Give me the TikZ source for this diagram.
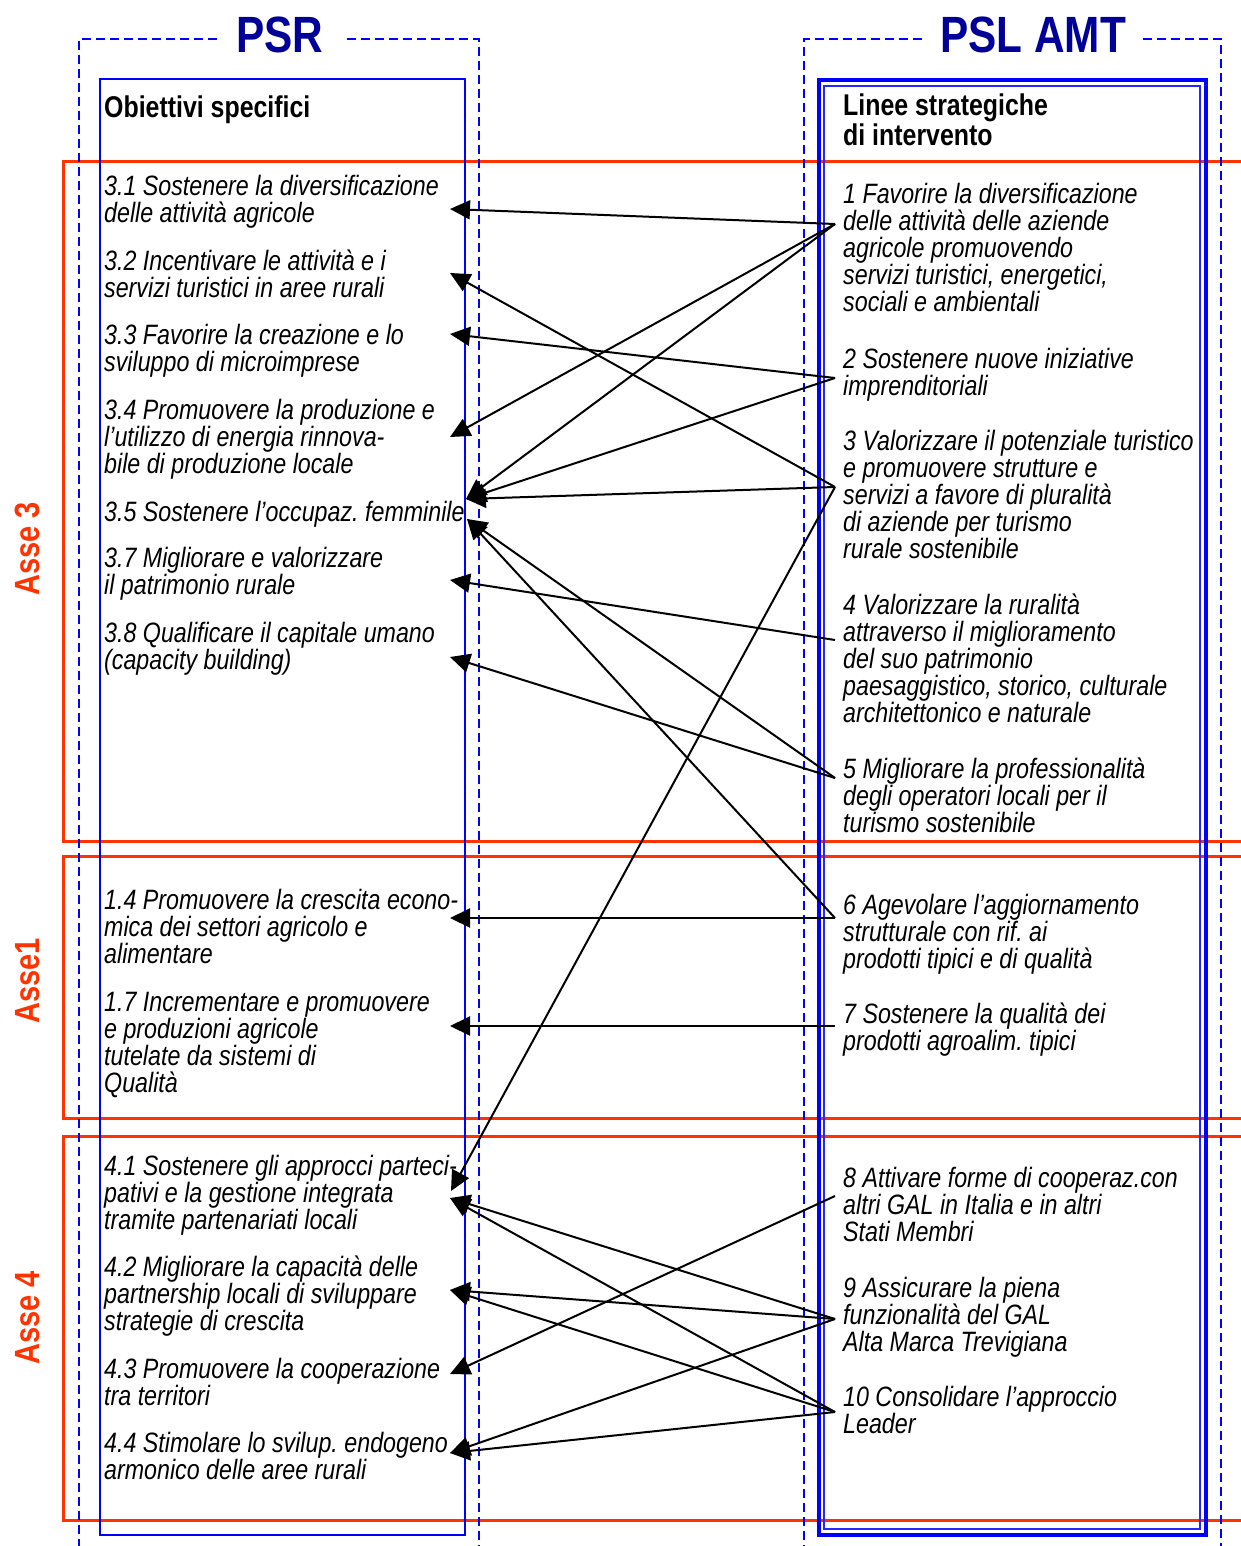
\documentclass[tikz,border=0pt]{standalone}
\usepackage{fontspec}
\setmainfont{Liberation Sans}[FakeStretch=0.83]
\usetikzlibrary{arrows.meta}
\definecolor{bl}{HTML}{0000FF}
\definecolor{navy}{HTML}{000099}
\definecolor{rd}{HTML}{FF3300}
\frenchspacing
\begin{document}
\begin{tikzpicture}[x=1pt,y=-1pt,
  txt/.style={anchor=base west, align=left, inner sep=0pt, font=\fontsize{28}{27}\selectfont\itshape\frenchspacing},
  head/.style={anchor=base west, align=left, inner sep=0pt, font=\fontsize{30}{30}\selectfont\bfseries},
  ttl/.style={anchor=base, inner sep=0pt, text=navy, font=\fontsize{51}{51}\selectfont\bfseries},
  asse/.style={anchor=base, rotate=90, inner sep=0pt, text=rd, font=\fontsize{35}{35}\selectfont\bfseries},
  dashline/.style={draw=bl, line width=2.8pt, dash pattern=on 9pt off 5pt},
  redbox/.style={draw=rd, line width=3pt},
  bluebox/.style={draw=bl, line width=2pt},
  arr/.style={draw=black, line width=2pt, -{Triangle[length=20pt,width=19pt]}},
]
\useasboundingbox (0,0) rectangle (1240,1546);
\fill[white] (0,0) rectangle (1240,1546);

% Asse frames
\draw[redbox] (63,162) rectangle (1280,841);
\draw[redbox] (63,856) rectangle (1280,1118);
\draw[redbox] (63,1136) rectangle (1280,1520);

% dashed outer frames
\draw[dashline] (217,39) -- (79,39) -- (79,1570);
\draw[dashline] (347,39) -- (479,39) -- (479,1570);
\draw[dashline] (922,39) -- (804,39) -- (804,1570);
\draw[dashline] (1143,39) -- (1221,39) -- (1221,1570);

% columns
\draw[bluebox] (100,79) rectangle (465,1535);
\draw[draw=bl, line width=3.5pt] (819,80) rectangle (1206,1535);
\draw[draw=bl!85, line width=2.5pt] (824,86) rectangle (1200,1529);

% titles
\node[ttl] (psr) at (280,53) {PSR};
\node[ttl] (psl) at (1033,53) {PSL AMT};
\node[asse] (a3) at (39,549) {Asse 3};
\node[asse] (a1) at (39,981) {Asse1};
\node[asse] (a4) at (39,1318) {Asse 4};

% left texts (positions = baseline of last line)
\node[head] (hl) at (104,118) {Obiettivi specifici};
\node[txt] (o31) at (104,223) {3.1 Sostenere la diversificazione\\delle attività agricole};
\node[txt] (o32) at (104,297) {3.2 Incentivare le attività e i\\servizi turistici in aree rurali};
\node[txt] (o33) at (104,371) {3.3 Favorire la creazione e lo\\sviluppo di microimprese};
\node[txt] (o34) at (104,473) {3.4 Promuovere la produzione e\\l’utilizzo di energia rinnova-\\bile di produzione locale};
\node[txt] (o35) at (104,521) {3.5 Sostenere l’occupaz. femminile};
\node[txt] (o37) at (104,594) {3.7 Migliorare e valorizzare\\il patrimonio rurale};
\node[txt] (o38) at (104,669) {3.8 Qualificare il capitale umano\\(capacity building)};
\node[txt] (o14) at (104,963) {1.4 Promuovere la crescita econo-\\mica dei settori agricolo e\\alimentare};
\node[txt] (o17) at (104,1092) {1.7 Incrementare e promuovere\\e produzioni agricole\\tutelate da sistemi di\\Qualità};
\node[txt] (o41) at (104,1229) {4.1 Sostenere gli approcci parteci-\\pativi e la gestione integrata\\tramite partenariati locali};
\node[txt] (o42) at (104,1330) {4.2 Migliorare la capacità delle\\partnership locali di sviluppare\\strategie di crescita};
\node[txt] (o43) at (104,1405) {4.3 Promuovere la cooperazione\\tra territori};
\node[txt] (o44) at (104,1479) {4.4 Stimolare lo svilup. endogeno\\armonico delle aree rurali};

% right texts
\node[head] (hr) at (843,146) {Linee strategiche\\di intervento};
\node[txt] (l1) at (843,312) {1 Favorire la diversificazione\\delle attività delle aziende\\agricole promuovendo\\servizi turistici, energetici,\\sociali e ambientali};
\node[txt] (l2) at (843,395) {2 Sostenere nuove iniziative\\imprenditoriali};
\node[txt] (l3) at (843,558) {3 Valorizzare il potenziale turistico\\e promuovere strutture e\\servizi a favore di pluralità\\di aziende per turismo\\rurale sostenibile};
\node[txt] (l4) at (843,722) {4 Valorizzare la ruralità\\attraverso il miglioramento\\del suo patrimonio\\paesaggistico, storico, culturale\\architettonico e naturale};
\node[txt] (l5) at (843,832) {5 Migliorare la professionalità\\degli operatori locali per il\\turismo sostenibile};
\node[txt] (l6) at (843,968) {6 Agevolare l’aggiornamento\\strutturale con rif. ai\\prodotti tipici e di qualità};
\node[txt] (l7) at (843,1050) {7 Sostenere la qualità dei\\prodotti agroalim. tipici};
\node[txt] (l8) at (843,1241) {8 Attivare forme di cooperaz.con\\altri GAL in Italia e in altri\\Stati Membri};
\node[txt] (l9) at (843,1351) {9 Assicurare la piena\\funzionalità del GAL\\Alta Marca Trevigiana};
\node[txt] (l10) at (843,1433) {10 Consolidare l’approccio\\Leader};

% connector end points
\coordinate (s1) at (835,224);
\coordinate (s2) at (835,378);
\coordinate (s3) at (835,487);
\coordinate (s4) at (835,640);
\coordinate (s5) at (835,778);
\coordinate (s6) at (835,918);
\coordinate (s7) at (835,1026);
\coordinate (s8) at (835,1196);
\coordinate (s9) at (835,1319);
\coordinate (s10) at (835,1412);

\coordinate (t31) at (450,209);
\coordinate (t32) at (450,273);
\coordinate (t33) at (450,334);
\coordinate (t34) at (450,437);
\coordinate (t35a) at (466,499);
\coordinate (t35b) at (467,519);
\coordinate (t37) at (450,580);
\coordinate (t38) at (450,657);
\coordinate (t14) at (450,918);
\coordinate (t17) at (450,1026);
\coordinate (t41a) at (451,1191);
\coordinate (t41b) at (450,1198);
\coordinate (t42) at (450,1290);
\coordinate (t43) at (450,1374);
\coordinate (t44) at (450,1453);

% connectors
\draw[arr] (s1) -- (t31);
\draw[arr] (s1) -- (t34);
\draw[arr] (s1) -- (t35a);
\draw[arr] (s2) -- (t33);
\draw[arr] (s2) -- (t35a);
\draw[arr] (s3) -- (t32);
\draw[arr] (s3) -- (t35a);
\draw[arr] (s3) -- (t41a);
\draw[arr] (s4) -- (t37);
\draw[arr] (s5) -- (t38);
\draw[arr] (s5) -- (t35b);
\draw[arr] (s6) -- (t35b);
\draw[arr] (s6) -- (t14);
\draw[arr] (s7) -- (t17);
\draw[arr] (s8) -- (t43);
\draw[arr] (s9) -- (t41b);
\draw[arr] (s9) -- (t42);
\draw[arr] (s9) -- (t44);
\draw[arr] (s10) -- (t41b);
\draw[arr] (s10) -- (t42);
\draw[arr] (s10) -- (t44);
\end{tikzpicture}
\end{document}
